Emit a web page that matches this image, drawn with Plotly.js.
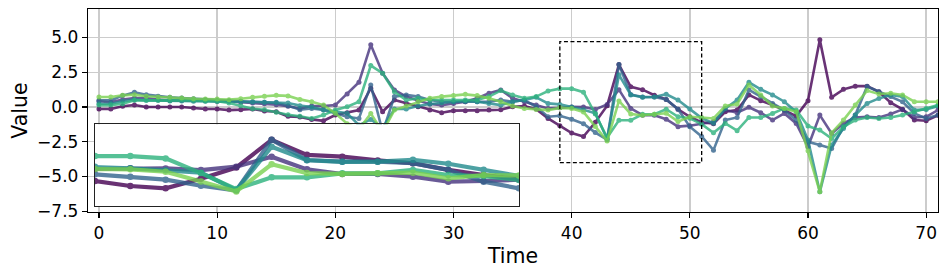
<!DOCTYPE html>
<html>
<head>
<meta charset="utf-8">
<script src="https://cdn.plot.ly/plotly-3.0.1.min.js"></script>
<style>
  html, body { margin: 0; padding: 0; background: #fff; }
  #chart { width: 947px; height: 274px; }
</style>
</head>
<body>
<div id="chart"></div>
<script>
// Time index 0..71
const time = Array.from({length: 72}, (_, i) => i);

const seriesNames = ['Series 1', 'Series 2', 'Series 3', 'Series 4', 'Series 5', 'Series 6'];
const seriesColors = ['#440154', '#46337e', '#33638d', '#228b8d', '#2db27d', '#7ad151'];

const s1 = [-0.14,-0.14,0.05,0.14,0.0,0.0,0.0,0.0,-0.07,-0.14,-0.14,-0.22,-0.19,-0.14,-0.29,-0.34,-0.67,-0.72,
  -0.89,-0.99,-0.58,-0.41,-0.22,1.35,-0.34,0.5,0.26,0.02,-0.22,-0.41,-0.26,-0.26,-0.26,-0.22,-0.2,0.02,0.07,-0.15,
  -0.82,-1.34,-1.87,-2.12,-1.1,0.1,3.05,1.45,1.25,0.85,0.55,-0.16,-0.7,-1.1,-1.2,-0.34,-0.22,0.87,0.46,0.14,
  -0.22,-0.65,0.46,4.83,0.7,1.27,1.5,1.5,1.1,0.31,-0.17,-0.94,-0.99,-0.6];
const s2 = [0.41,0.34,0.53,0.65,0.65,0.53,0.48,0.48,0.48,0.48,0.41,0.41,0.34,0.29,0.24,0.17,0.05,-0.1,
  0.07,0.07,0.14,0.94,1.78,4.47,2.43,1.23,0.75,0.46,0.22,0.14,0.26,0.38,0.63,0.99,1.23,0.63,0.38,0.14,
  -0.1,-0.06,0.01,0.0,-0.17,0.19,1.25,-0.1,-0.59,-0.59,-0.88,-1.41,-1.34,-1.2,-1.06,-0.22,-0.41,-0.02,-0.41,-0.94,
  -0.46,-1.18,-2.86,-0.58,-1.9,-1.18,-0.75,-0.7,-0.75,-0.5,-0.17,-0.75,-0.7,-0.22];
const s3 = [0.48,0.48,0.82,1.06,0.89,0.77,0.7,0.65,0.6,0.53,0.48,0.46,0.41,0.38,0.34,0.3,0.1,-0.19,
  -0.1,-0.22,-0.45,-0.7,-0.82,1.58,-1.8,0.75,0.87,0.75,0.5,0.38,0.38,0.38,0.38,0.38,0.5,0.38,0.5,0.02,
  -0.7,-0.63,-0.88,-1.2,-1.84,-2.35,3.05,0.9,0.72,0.72,0.55,-0.16,-1.41,-2.12,-3.1,-0.94,-0.75,1.23,0.75,0.26,
  -0.22,-0.94,-2.5,-2.74,-2.98,-1.42,-0.58,1.47,1.1,0.75,0.38,-0.46,-0.82,-0.58];
const s4 = [0.24,0.24,0.41,0.53,0.48,0.48,0.43,0.43,0.41,0.41,0.41,0.41,0.41,0.36,0.34,0.34,0.29,0.1,
  0.0,-0.2,-0.34,-0.45,-1.3,-0.89,-1.5,-0.14,-0.14,0.07,0.22,0.31,0.38,0.43,0.38,0.26,0.14,0.38,0.5,0.7,
  0.26,0.19,0.01,-0.2,-0.45,-2.3,2.31,0.87,0.7,0.72,0.92,0.5,-0.15,-0.8,-1.17,-0.1,0.5,1.78,1.27,0.87,
  0.38,-0.34,-2.38,-6.1,-2.74,-1.54,-0.58,0.26,0.62,0.87,0.75,-0.22,-0.17,0.07];
const s5 = [0.14,0.14,0.24,0.48,0.48,0.48,0.48,0.53,0.48,0.43,0.41,0.29,0.1,-0.12,-0.19,-0.38,-0.55,-0.67,
  -0.82,-0.58,-0.22,0.02,0.38,2.98,2.43,1.1,0.5,0.63,0.5,0.5,0.5,0.5,0.5,0.75,1.18,0.87,0.63,0.75,
  1.15,1.32,1.32,1.07,-0.5,-2.2,-0.95,-0.95,-0.52,-0.52,-0.16,-0.7,-0.81,-1.23,-1.85,-1.18,-1.7,-0.75,-0.75,-0.46,
  -0.1,-0.22,-1.37,-1.66,-2.26,-1.42,-0.94,-0.75,-0.82,-0.75,-0.58,-0.34,-0.1,0.14];
const s6 = [0.72,0.72,0.84,0.89,0.77,0.72,0.7,0.65,0.6,0.58,0.58,0.53,0.6,0.7,0.77,0.84,0.8,0.55,
  0.38,0.14,-0.45,-1.2,-1.6,-0.46,-1.8,-0.22,0.07,0.38,0.63,0.75,0.82,0.91,0.82,0.63,0.38,0.07,-0.1,-0.17,
  -0.22,-0.06,-0.1,-0.35,-1.4,-2.45,0.44,-0.5,-0.59,-0.52,-0.45,-1.05,-0.7,-0.75,-0.82,0.07,0.22,1.59,0.87,0.07,
  -0.1,-0.34,-3.15,-6.1,-1.85,-0.94,0.14,1.18,0.94,0.99,0.87,0.38,0.38,0.38];

const allSeries = [s1, s2, s3, s4, s5, s6];

const xTickVals = [0, 10, 20, 30, 40, 50, 60, 70];
const yTickVals = [-7.5, -5, -2.5, 0, 2.5, 5];
const yTickText = ['\u22127.5', '\u22125.0', '\u22122.5', '0.0', '2.5', '5.0'];

// zoom window shown in inset
const zoomX = [39, 51];
const zoomY = [-4, 4.7];

const traces = [];
allSeries.forEach((vals, i) => {
  traces.push({
    x: time, y: vals, name: seriesNames[i], type: 'scatter', mode: 'lines+markers',
    xaxis: 'x', yaxis: 'y', opacity: 0.8, showlegend: false,
    line: {color: seriesColors[i], width: 2.6},
    marker: {color: seriesColors[i], size: 5}
  });
});
allSeries.forEach((vals, i) => {
  traces.push({
    x: time, y: vals, name: seriesNames[i], type: 'scatter', mode: 'lines+markers',
    xaxis: 'x2', yaxis: 'y2', opacity: 0.8, showlegend: false,
    line: {color: seriesColors[i], width: 4.2},
    marker: {color: seriesColors[i], size: 6.5}
  });
});

const font = {family: 'DejaVu Sans, sans-serif', color: '#000'};

const layout = {
  width: 947, height: 274,
  margin: {l: 88, r: 9, t: 9, b: 62},
  paper_bgcolor: '#fff', plot_bgcolor: '#fff',
  font: Object.assign({size: 17}, font),
  showlegend: false,
  xaxis: {
    domain: [0, 1], anchor: 'y',
    range: [-0.93, 71],
    tickvals: xTickVals,
    ticks: 'outside', ticklen: 5, tickwidth: 1.1, tickcolor: '#000',
    showgrid: true, gridcolor: '#cccccc', gridwidth: 1.4,
    zeroline: false,
    showline: true, mirror: true, linecolor: '#000', linewidth: 1.2,
    tickfont: Object.assign({size: 17}, font),
    title: {text: 'Time', font: Object.assign({size: 20.5}, font), standoff: 7}
  },
  yaxis: {
    domain: [0, 1], anchor: 'x',
    range: [-7.55, 7.05],
    tickvals: yTickVals, ticktext: yTickText,
    ticks: 'outside', ticklen: 5, tickwidth: 1.1, tickcolor: '#000',
    showgrid: true, gridcolor: '#cccccc', gridwidth: 1.4,
    zeroline: false,
    showline: true, mirror: true, linecolor: '#000', linewidth: 1.2,
    tickfont: Object.assign({size: 17}, font),
    title: {text: 'Value', font: Object.assign({size: 20.5}, font), standoff: 4}
  },
  xaxis2: {
    domain: [0.0082, 0.507], anchor: 'y2',
    range: zoomX,
    showticklabels: false, ticks: '', showgrid: false, zeroline: false,
    showline: true, mirror: true, linecolor: '#222', linewidth: 1.2
  },
  yaxis2: {
    domain: [0.0296, 0.432], anchor: 'x2',
    range: zoomY,
    showticklabels: false, ticks: '', showgrid: false, zeroline: false,
    showline: true, mirror: true, linecolor: '#222', linewidth: 1.2
  },
  shapes: [{
    type: 'rect', xref: 'x', yref: 'y',
    x0: zoomX[0], x1: zoomX[1], y0: zoomY[0], y1: zoomY[1],
    line: {color: '#000', width: 1.3, dash: '4px,2.5px'},
    fillcolor: 'rgba(0,0,0,0)', layer: 'above'
  }]
};

Plotly.newPlot('chart', traces, layout, {displayModeBar: false, staticPlot: true});
</script>
</body>
</html>
